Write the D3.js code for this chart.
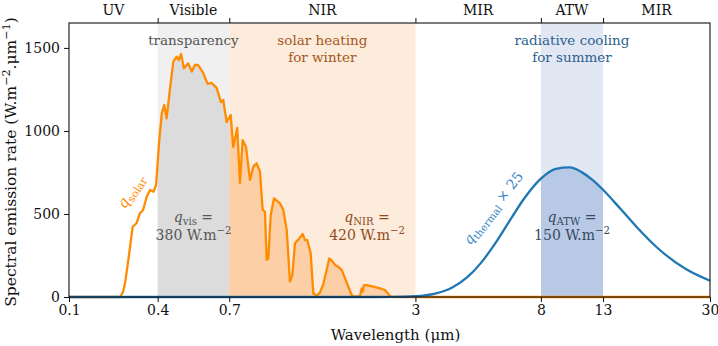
<!DOCTYPE html>
<html>
<head>
<meta charset="utf-8">
<script src="https://cdn.jsdelivr.net/npm/d3@7"></script>
<style>
  html, body { margin: 0; padding: 0; background: #fff; }
  svg { display: block; }
  text { font-family: "DejaVu Serif", serif; }
</style>
</head>
<body>
<svg id="chart" width="718" height="346"></svg>
<script>
// ---------------- data ----------------
const xTickValues = [0.2, 0.4, 0.7, 3, 8, 13, 30];
const xTickLabels = ["0.1", "0.4", "0.7", "3", "8", "13", "30"];
const yTickValues = [0, 500, 1000, 1500];

const regionBounds = [0.2, 0.4, 0.7, 3, 8, 13, 30];
const regionNames = ["UV", "Visible", "NIR", "MIR", "ATW", "MIR"];

const solarWavelength = [0.2, 0.298, 0.305, 0.310, 0.318, 0.329, 0.339, 0.348, 0.357, 0.367,
  0.377, 0.387, 0.395, 0.405, 0.413, 0.421, 0.429, 0.440, 0.452, 0.464,
  0.472, 0.480, 0.491, 0.508, 0.522, 0.535, 0.549, 0.571, 0.591, 0.610,
  0.634, 0.656, 0.668, 0.686, 0.708, 0.722, 0.745, 0.761, 0.777, 0.798,
  0.823, 0.845, 0.867, 0.890, 0.909, 0.925, 0.938, 0.950, 0.968, 0.993,
  1.041, 1.068, 1.097, 1.125, 1.146, 1.170, 1.210, 1.243, 1.265, 1.288,
  1.323, 1.350, 1.386, 1.422, 1.460, 1.499, 1.530, 1.571, 1.599, 1.641,
  1.686, 1.730, 1.775, 1.822, 1.870, 1.945, 1.970, 1.986, 2.006, 2.049,
  2.158, 2.274, 2.364, 2.458, 2.517, 30];
const solarValue = [0, 0, 30, 84, 223, 423, 444, 504, 524, 604,
  644, 634, 674, 945, 1106, 1156, 1076, 1247, 1417, 1447,
  1427, 1463, 1377, 1407, 1357, 1397, 1397, 1349, 1283, 1289,
  1259, 1174, 1186, 1054, 1096, 903, 1018, 687, 945, 903,
  705, 785, 805, 755, 524, 514, 223, 233, 494, 594,
  564, 524, 403, 92, 132, 323, 353, 379, 343, 343,
  263, 22, 9, 26, 78, 163, 233, 213, 193, 182,
  163, 113, 62, 12, 2, 6, 52, 32, 72, 72,
  62, 52, 42, 6, 0, 0];

const thermalWavelength = [0.2, 2, 2.5, 3, 3.5, 4, 4.5, 5, 5.5, 6, 6.5, 7, 7.5, 8, 9, 10, 11, 12, 13, 15, 17, 20, 25, 30];
const thermalValue = [0, 0, 0.4, 4.4, 20, 57, 119, 204, 303, 406, 504, 590, 660, 713, 772, 780, 752, 704, 646, 525, 417, 292, 165, 98];

(function () {
// ---------------- setup ----------------
const svg = d3.select("#chart");
const pL = 69, pR = 710, pT = 23, pB = 297;
const x = d3.scaleLog().domain([0.2, 30]).range([pL, pR]);
const y = d3.scaleLinear().domain([0, 1650]).range([pB, pT]);
const FS = 13.5;

const solar = solarWavelength.map((w, i) => ({ w, v: solarValue[i] }));
const thermal = thermalWavelength.map((w, i) => ({ w, v: thermalValue[i] }));

const defs = svg.append("defs");
function addClip(id, a, b) {
  defs.append("clipPath").attr("id", id).append("rect")
    .attr("x", x(a)).attr("y", pT).attr("width", x(b) - x(a)).attr("height", pB - pT);
}
addClip("clipVis", 0.4, 0.7);
addClip("clipNir", 0.7, 3);
addClip("clipAtw", 8, 13);
defs.append("clipPath").attr("id", "clipPlot").append("rect")
  .attr("x", pL).attr("y", pT - 2).attr("width", pR - pL).attr("height", pB - pT + 4);

const bands = [
  { a: 0.4, b: 0.7, fill: "#f0f0f0" },
  { a: 0.7, b: 3, fill: "#fdebdb" },
  { a: 8, b: 13, fill: "#e1e8f4" }
];
svg.append("g").selectAll("rect").data(bands).join("rect")
  .attr("x", d => x(d.a)).attr("y", pT)
  .attr("width", d => x(d.b) - x(d.a)).attr("height", pB - pT)
  .attr("fill", d => d.fill);

const areaSolar = d3.area().x(d => x(d.w)).y0(y(0)).y1(d => y(d.v));
const areaThermal = d3.area().x(d => x(d.w)).y0(y(0)).y1(d => y(d.v)).curve(d3.curveMonotoneX);
svg.append("path").datum(solar).attr("d", areaSolar).attr("fill", "#dcdcdc").attr("clip-path", "url(#clipVis)");
svg.append("path").datum(solar).attr("d", areaSolar).attr("fill", "#fccfa6").attr("clip-path", "url(#clipNir)");
svg.append("path").datum(thermal).attr("d", areaThermal).attr("fill", "#b8c9e6").attr("clip-path", "url(#clipAtw)");

const lineSolar = d3.line().x(d => x(d.w)).y(d => y(d.v));
const lineThermal = d3.line().x(d => x(d.w)).y(d => y(d.v)).curve(d3.curveMonotoneX);
svg.append("path").datum(solar).attr("d", lineSolar).attr("fill", "none")
  .attr("stroke", "#ff8c00").attr("stroke-width", 2.3).attr("stroke-linejoin", "round")
  .attr("clip-path", "url(#clipPlot)");
svg.append("path").datum(thermal).attr("d", lineThermal).attr("fill", "none")
  .attr("stroke", "#1f77b4").attr("stroke-width", 2.3).attr("clip-path", "url(#clipPlot)");

// ---------------- axes ----------------
const xAxis = d3.axisBottom(x).tickValues(xTickValues).tickFormat((d, i) => xTickLabels[i])
  .tickSize(5).tickPadding(3).tickSizeOuter(0);
const gx = svg.append("g").attr("transform", `translate(0,${pB})`).call(xAxis);
gx.select(".domain").remove();
gx.selectAll("text").attr("font-size", 14).attr("font-family", "DejaVu Serif").attr("fill", "#111");
gx.selectAll("line").attr("stroke", "#111");

const topAxis = d3.axisTop(x).tickValues(regionBounds.slice(1, -1)).tickFormat("").tickSize(5).tickSizeOuter(0);
const gt = svg.append("g").attr("transform", `translate(0,${pT})`).call(topAxis);
gt.select(".domain").remove();
gt.selectAll("line").attr("stroke", "#111");

const yAxis = d3.axisLeft(y).tickValues(yTickValues).tickFormat(d3.format("d"))
  .tickSize(5).tickPadding(4).tickSizeOuter(0);
const gy = svg.append("g").attr("transform", `translate(${pL},0)`).call(yAxis);
gy.select(".domain").remove();
gy.selectAll("text").attr("font-size", 14).attr("font-family", "DejaVu Serif").attr("fill", "#111");
gy.selectAll("line").attr("stroke", "#111");

svg.append("rect").attr("x", pL).attr("y", pT).attr("width", pR - pL).attr("height", pB - pT)
  .attr("fill", "none").attr("stroke", "#111").attr("stroke-width", 1.1);

svg.append("g").selectAll("text").data(regionNames).join("text")
  .attr("x", (d, i) => (x(regionBounds[i]) + x(regionBounds[i + 1])) / 2)
  .attr("y", 15).attr("text-anchor", "middle").attr("font-size", 14).attr("fill", "#111")
  .text(d => d);

// ---------------- rich text helper ----------------
function rich(g, parts, opts) {
  const size = opts.size || FS;
  const t = g.append("text").attr("x", opts.x).attr("y", opts.y)
    .attr("text-anchor", opts.anchor || "middle").attr("font-size", size)
    .attr("fill", opts.fill || "#111");
  if (opts.rotate) t.attr("transform", `rotate(${opts.rotate},${opts.x},${opts.y})`);
  let shift = 0;
  parts.forEach(p => {
    const s = t.append("tspan").text(p.t);
    let target = 0;
    if (p.sup) target = -0.4 * size;
    if (p.sub) target = 0.22 * size;
    if (target !== shift) { s.attr("dy", target - shift); shift = target; }
    if (p.sup || p.sub) s.attr("font-size", size * 0.72);
    if (p.it) s.attr("font-style", "italic");
  });
  return t;
}

const lab = svg.append("g");
const visMid = (x(0.4) + x(0.7)) / 2;
const nirMid = (x(0.7) + x(3)) / 2;
const atwMid = (x(8) + x(13)) / 2;
rich(lab, [{ t: "transparency" }], { x: visMid, y: 45, fill: "#555555" });
rich(lab, [{ t: "solar heating" }], { x: nirMid, y: 45, fill: "#a5581d" });
rich(lab, [{ t: "for winter" }], { x: nirMid, y: 62, fill: "#a5581d" });
rich(lab, [{ t: "radiative cooling" }], { x: atwMid, y: 45, fill: "#2e5f8e" });
rich(lab, [{ t: "for summer" }], { x: atwMid, y: 62, fill: "#2e5f8e" });

rich(lab, [{ t: "q", it: true }, { t: "vis", sub: true }, { t: " =" }], { x: visMid, y: 222, fill: "#555555", size: 14 });
rich(lab, [{ t: "380 W.m" }, { t: "−2", sup: true }], { x: visMid, y: 240, fill: "#555555", size: 14 });
rich(lab, [{ t: "q", it: true }, { t: "NIR", sub: true }, { t: " =" }], { x: 367, y: 222, fill: "#8f4d1c", size: 14 });
rich(lab, [{ t: "420 W.m" }, { t: "−2", sup: true }], { x: 367, y: 240, fill: "#8f4d1c", size: 14 });
rich(lab, [{ t: "q", it: true }, { t: "ATW", sub: true }, { t: " =" }], { x: atwMid, y: 222, fill: "#34495e", size: 14 });
rich(lab, [{ t: "150 W.m" }, { t: "−2", sup: true }], { x: atwMid, y: 240, fill: "#34495e", size: 14 });

rich(lab, [{ t: "q", it: true }, { t: "solar", sub: true }], { x: 135, y: 194, fill: "#ff8c00", rotate: -57, size: 15 });
rich(lab, [{ t: "q", it: true }, { t: "thermal", sub: true }, { t: " × 25" }], { x: 497, y: 211, fill: "#3a86c6", rotate: -52, size: 14 });

rich(lab, [{ t: "Wavelength (μm)" }], { x: (pL + pR) / 2 + 6, y: 340, size: 15 });
rich(lab, [{ t: "Spectral emission rate (W.m" }, { t: "−2", sup: true }, { t: ".μm" }, { t: "−1", sup: true }, { t: ")" }],
  { x: 16, y: (pT + pB) / 2 + 2, rotate: -90, size: 15.5 });
})();
</script>
</body>
</html>
